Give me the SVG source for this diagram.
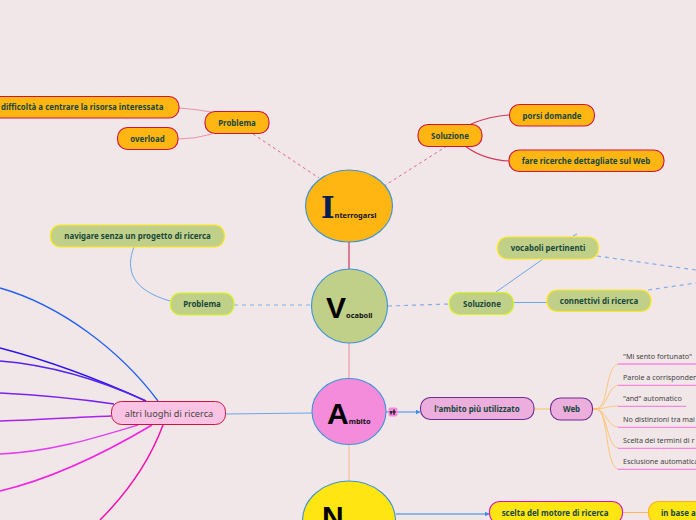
<svg xmlns="http://www.w3.org/2000/svg" width="696" height="520" viewBox="0 0 696 520">
<style>
text{font-family:"Noto Sans","Open Sans","DejaVu Sans",sans-serif;font-size:7.900px;font-weight:700;fill:#17473a}
.m{text-anchor:middle}
.o rect{fill:#ffb612;stroke:#d3123f;stroke-width:1.1}
.g rect{fill:#c1d089;stroke:#ffe81a;stroke-width:1.2}
.gl rect{stroke:#d6f51a}
.p rect{fill:#ecaedd;stroke:#6f2c91;stroke-width:1.1}
.c ellipse{stroke:#3a94d6;stroke-width:1.1}
.big{font-size:30px;font-family:"Liberation Sans",Arial,sans-serif;fill:#000}
.sub{font-size:7.400px}
.s{font-weight:400;font-size:7.200px;fill:#444}
.u{stroke:#fb86de;stroke-width:1.3;fill:none}
path{fill:none}
.cr{stroke:#e596a8;stroke-width:1}
.cd{stroke:#dc6a90;stroke-width:1;stroke-dasharray:3 3}
.cb{stroke:#6ba6e8;stroke-width:1}
.cbd{stroke:#82aeea;stroke-width:1.200;stroke-dasharray:4 4}
.or{stroke:#fcc67a;stroke-width:1}
</style>
<defs><marker id="a" markerWidth="5" markerHeight="5" refX="4.500" refY="2.500" orient="auto" markerUnits="userSpaceOnUse"><path d="M0 0L5 2.500L0 5Z" style="fill:#3a8fe8"/></marker></defs>
<rect width="696" height="520" fill="#f1e6e8"/>
<g id="connectors">
<path class="cr" d="M179 108Q195 109 211 112"/>
<path class="cr" d="M178 139Q195 139 212 134"/>
<path class="cd" d="M253 134L319 178"/>
<path class="cd" d="M447 146L384 186"/>
<path d="M471 124Q490 116 509 115" stroke="#d3375f" stroke-width="1.200"/>
<path d="M465 146Q484 160 509 161" stroke="#d3375f" stroke-width="1.200"/>
<path d="M349 242V270" stroke="#d9577a" stroke-width="1.500"/>
<path d="M349 343V378" stroke="#e8a6b4" stroke-width="1.300"/>
<path d="M349 444V481" stroke="#f5c6a0" stroke-width="1.300"/>
<path class="cb" d="M134 247C125 270 132 290 170 301"/>
<path class="cbd" d="M234 305H311"/>
<path class="cbd" d="M388 306L449 304"/>
<path class="cb" d="M496 292L543 259"/>
<path class="cb" d="M514 302.500H547"/>
<path class="cb" d="M573 236L577 234"/>
<path class="cbd" d="M597 256L696 270"/>
<path class="cbd" d="M648 290L696 283"/>
<path d="M226 414L312 413" stroke="#6ba6e8" stroke-width="1"/>
<path d="M397 412H420" stroke="#3a8fe8" stroke-width="1" marker-end="url(#a)"/>
<path d="M386 412H389" stroke="#3a8fe8" stroke-width="1"/>
<path d="M534 409H550" stroke="#fcc67a" stroke-width="1.200"/>
<path d="M593 409H599" stroke="#ff9f30" stroke-width="1.200"/>
<path class="or" d="M597 409C609 405 605 368 618 364"/>
<path class="or" d="M597 409C609 405 606 389 618 385"/>
<path class="or" d="M597 409C606 408 610 406 618 406"/>
<path class="or" d="M597 409C606 411 608 427 618 427"/>
<path class="or" d="M597 409C608 413 606 445 618 448"/>
<path class="or" d="M597 409C609 413 605 466 618 469"/>
<path d="M396 514H489" stroke="#6ba6e8" stroke-width="1.300" marker-end="url(#a)"/>
<path d="M622 512.500H648" stroke="#fcb65a" stroke-width="1"/>
<path d="M0 288C60 305 120 350 158 401" stroke="#2060f0" stroke-width="1.300"/>
<path d="M0 348C50 361 100 380 146 401" stroke="#2a10f0" stroke-width="1.500"/>
<path d="M0 361C50 365 100 380 146 401" stroke="#5522f0" stroke-width="1.300"/>
<path d="M0 393C40 395 80 399 114 404" stroke="#7a22f0" stroke-width="1.500"/>
<path d="M0 421C40 420 80 417 111 416" stroke="#a822f0" stroke-width="1.500"/>
<path d="M0 454C50 452 95 438 138 425" stroke="#e040f0" stroke-width="1.500"/>
<path d="M0 491C55 478 110 450 152 425" stroke="#f520e0" stroke-width="1.500"/>
<path d="M100 520C130 490 150 460 163 425" stroke="#f510b0" stroke-width="1.500"/>
</g>
<g id="n-difficolta" class="o"><rect x="-30" y="96.500" width="209" height="21.500" rx="10"/><text x="1" y="110">difficoltà a centrare la risorsa interessata</text></g>
<g id="n-overload" class="o"><rect x="117.500" y="127.500" width="60.500" height="22" rx="10"/><text class="m" x="147.500" y="142">overload</text></g>
<g id="n-problema1" class="o"><rect x="205" y="111.500" width="64" height="22" rx="10"/><text class="m" x="237" y="126">Problema</text></g>
<g id="n-soluzione1" class="o"><rect x="418" y="124.500" width="64" height="22" rx="10"/><text class="m" x="450" y="139">Soluzione</text></g>
<g id="n-porsi" class="o"><rect x="509.500" y="104.500" width="85" height="21.500" rx="10"/><text class="m" x="552" y="119">porsi domande</text></g>
<g id="n-fare" class="o"><rect x="509" y="150" width="155" height="21.500" rx="10"/><text class="m" x="586" y="164">fare ricerche dettagliate sul Web</text></g>
<g id="n-interrogarsi" class="c"><ellipse cx="349" cy="206" rx="43.500" ry="36" fill="#ffb612"/><text x="321" y="218"><tspan style="font-family:'DejaVu Serif',serif;font-size:29px;font-weight:700;fill:#0a1f50">I</tspan><tspan class="sub" style="fill:#111">nterrogarsi</tspan></text></g>
<g id="n-navigare" class="g"><rect x="50.500" y="225" width="174" height="22" rx="10"/><text class="m" x="137.500" y="239">navigare senza un progetto di ricerca</text></g>
<g id="n-problema2" class="g gl"><rect x="170.500" y="293" width="63.500" height="22" rx="10"/><text class="m" x="202" y="307">Problema</text></g>
<g id="n-vocaboli" class="c"><ellipse cx="349.500" cy="306" rx="38" ry="37" fill="#c1d089"/><text x="326" y="318"><tspan class="big">V</tspan><tspan class="sub" style="fill:#111">ocaboli</tspan></text></g>
<g id="n-soluzione2" class="g gl"><rect x="449.500" y="292.500" width="64" height="22" rx="10"/><text class="m" x="482" y="307">Soluzione</text></g>
<g id="n-pertinenti" class="g"><rect x="497.500" y="237" width="101" height="22" rx="10"/><text class="m" x="548" y="251">vocaboli pertinenti</text></g>
<g id="n-connettivi" class="g"><rect x="547" y="290" width="104" height="21.500" rx="10"/><text class="m" x="599" y="304">connettivi di ricerca</text></g>
<g id="n-altri"><rect x="111.500" y="401.500" width="114" height="23" rx="10" fill="#fbc3e3" stroke="#d3123f" stroke-width="1"/><text class="m" x="169" y="417" style="font-weight:400;font-size:9.200px;fill:#444">altri luoghi di ricerca</text></g>
<g id="n-ambito" class="c"><ellipse cx="349" cy="411.500" rx="37" ry="33" fill="#f58cdb"/><text x="327" y="424"><tspan class="big">A</tspan><tspan class="sub" style="fill:#111">mbito</tspan></text></g>
<g id="n-badge"><rect x="388.500" y="407.500" width="9" height="9" rx="2" fill="#f58cdb"/><path d="M389.500 412H396M394 409.500V415M391 411V414.500" stroke="#111" stroke-width="1.200"/></g>
<g id="n-utilizzato" class="p"><rect x="420.500" y="397.500" width="113.500" height="22" rx="10"/><text class="m" x="477" y="412">l'ambito più utilizzato</text></g>
<g id="n-web" class="p"><rect x="550.500" y="398" width="42" height="22" rx="10"/><text class="m" x="571.500" y="412">Web</text></g>
<g id="n-mi"><path class="u" d="M618 364H696"/><text class="s" x="623" y="359">"Mi sento fortunato"</text></g>
<g id="n-parole"><path class="u" d="M618 385.300H696"/><text class="s" x="623" y="380">Parole a corrisponden</text></g>
<g id="n-and"><path class="u" d="M618 406.300H686"/><text class="s" x="623" y="401">"and" automatico</text></g>
<g id="n-no"><path class="u" d="M618 427.300H696"/><text class="s" x="623" y="422">No distinzioni tra mai</text></g>
<g id="n-scelta"><path class="u" d="M618 448.300H696"/><text class="s" x="623" y="443">Scelta dei termini di r</text></g>
<g id="n-esclusione"><path class="u" d="M618 469.300H696"/><text class="s" x="623" y="464">Esclusione automatica</text></g>
<g id="n-n" class="c"><ellipse cx="349" cy="521" rx="46.500" ry="40" fill="#ffe512"/><text class="big" x="322" y="527">N</text></g>
<g id="n-motore"><rect x="489.500" y="501.500" width="133" height="22" rx="10" fill="#ffe512" stroke="#e010c0" stroke-width="1.100"/><text class="m" x="555" y="516">scelta del motore di ricerca</text></g>
<g id="n-base"><rect x="648.500" y="501.500" width="70" height="22" rx="10" fill="#ffe512" stroke="#ffae2a" stroke-width="1.100"/><text x="661" y="516">in base a</text></g>
</svg>
